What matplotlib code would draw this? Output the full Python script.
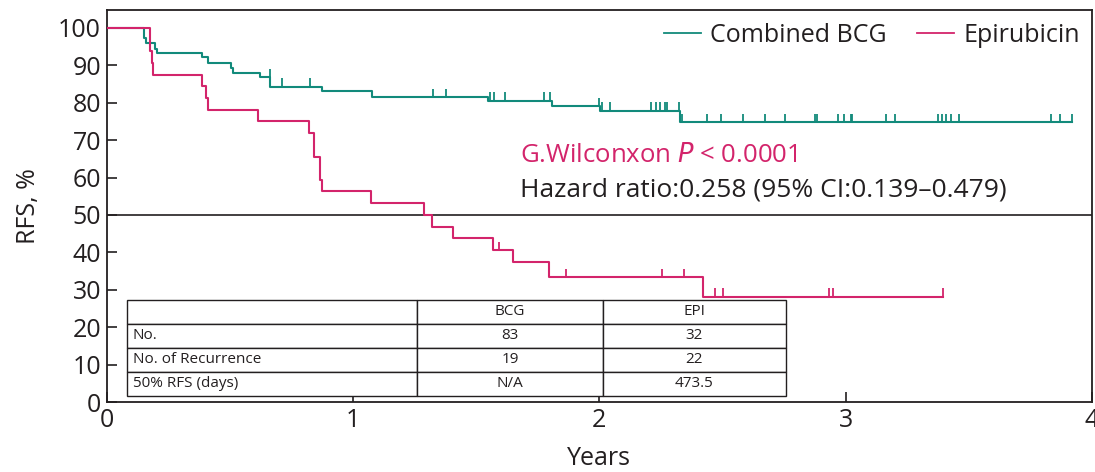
import numpy as np
import matplotlib
matplotlib.use("Agg")
import matplotlib.pyplot as plt
from matplotlib.lines import Line2D

plt.rcParams['font.family'] = ['Open Sans', 'DejaVu Sans']

# Kaplan-Meier steps (years, RFS %)
bcg_times = [0, 0.153, 0.159, 0.197, 0.206, 0.386, 0.41, 0.505, 0.513, 0.624,
             0.665, 0.873, 1.078, 1.549, 1.810, 2.002, 2.327]
bcg_surv = [100, 97.2, 96.1, 94.3, 93.2, 92.2, 90.6, 89.4, 88.0, 86.8,
            84.3, 83.2, 81.6, 80.6, 79.2, 77.9, 74.9]
bcg_end = 3.918
bcg_censor = [0.664, 0.711, 0.826, 1.326, 1.376, 1.556, 1.573, 1.617, 1.775, 1.799,
              1.998, 2.009, 2.045, 2.209, 2.229, 2.245, 2.266, 2.273, 2.324, 2.336,
              2.439, 2.496, 2.583, 2.671, 2.753, 2.874, 2.884, 2.969, 2.992, 3.020,
              3.026, 3.165, 3.199, 3.374, 3.392, 3.409, 3.429, 3.459, 3.834, 3.871,
              3.918]

epi_times = [0, 0.177, 0.183, 0.19, 0.386, 0.404, 0.413, 0.616, 0.822, 0.843,
             0.866, 0.876, 1.072, 1.288, 1.319, 1.407, 1.567, 1.650, 1.796, 2.419]
epi_surv = [100, 93.8, 90.6, 87.5, 84.4, 81.3, 78.1, 75.0, 71.9, 65.6,
            59.4, 56.3, 53.1, 50.0, 46.9, 43.8, 40.6, 37.5, 33.3, 28.2]
epi_end = 3.397
epi_censor = [1.592, 1.864, 2.256, 2.343, 2.469, 2.502, 2.933, 2.947, 3.397]

table_cols = ["", "BCG", "EPI"]
table_rows = [["No.", "83", "32"],
              ["No. of Recurrence", "19", "22"],
              ["50% RFS (days)", "N/A", "473.5"]]

col_bcg = '#128A7B'
col_epi = '#D3246B'
txt_col = '#231F20'

fig = plt.figure(figsize=(10.95, 4.72), dpi=100)
ax = fig.add_axes([0.0973, 0.1483, 0.9, 0.8305])


def km(ax, times, surv, end, censor, color):
    t = list(times) + [end]
    s = list(surv) + [surv[-1]]
    ax.step(t, s, where='post', color=color, lw=1.5, zorder=3)
    idx = np.searchsorted(times, censor, side='right') - 1
    yc = np.array(surv)[idx]
    ax.vlines(censor, yc, yc + 2.2, color=color, lw=1.3, zorder=3)


km(ax, bcg_times, bcg_surv, bcg_end, bcg_censor, col_bcg)
km(ax, epi_times, epi_surv, epi_end, epi_censor, col_epi)

ax.axhline(50, color=txt_col, lw=1.2, zorder=2)

ax.set_xlim(0, 4)
ax.set_ylim(0, 104.8)
ax.set_xticks([0, 1, 2, 3, 4])
ax.set_yticks(np.arange(0, 101, 10))
ax.tick_params(direction='in', length=7, width=1.2, labelsize=18,
               colors=txt_col, pad=4)
for sp in ax.spines.values():
    sp.set_linewidth(1.3)
    sp.set_color(txt_col)
ax.set_xlabel('Years', fontsize=18, color=txt_col, labelpad=10)
ax.set_ylabel('RFS, %', fontsize=18, color=txt_col, labelpad=12)

ax.text(1.677, 66, 'G.Wilconxon $\\it{P}$ < 0.0001', fontsize=18.5, color=col_epi,
        va='center', ha='left')
ax.text(1.677, 56.7, 'Hazard ratio:0.258 (95% CI:0.139\u20130.479)', fontsize=19,
        color=txt_col, va='center', ha='left')

handles = [Line2D([], [], color=col_bcg, lw=1.3), Line2D([], [], color=col_epi, lw=1.3)]
ax.legend(handles, ['Combined BCG', 'Epirubicin'], loc='upper right', ncol=2,
          frameon=False, fontsize=18, handlelength=1.5, handletextpad=0.35,
          columnspacing=1.2, borderaxespad=0.1, labelcolor=txt_col)

tab = ax.table(cellText=table_rows, colLabels=table_cols,
               colWidths=[0.44, 0.282, 0.278],
               bbox=[0.0208, 0.0153, 0.6687, 0.245], zorder=4)
tab.auto_set_font_size(False)
for (r, c), cell in tab.get_celld().items():
    cell.set_linewidth(1.0)
    cell.set_edgecolor(txt_col)
    cell.set_facecolor('white')
    t = cell.get_text()
    t.set_fontsize(11)
    t.set_color(txt_col)
    if c == 0:
        t.set_ha('left')
        cell.PAD = 0.02
    else:
        t.set_ha('center')

fig.savefig('out.png', dpi=100)
